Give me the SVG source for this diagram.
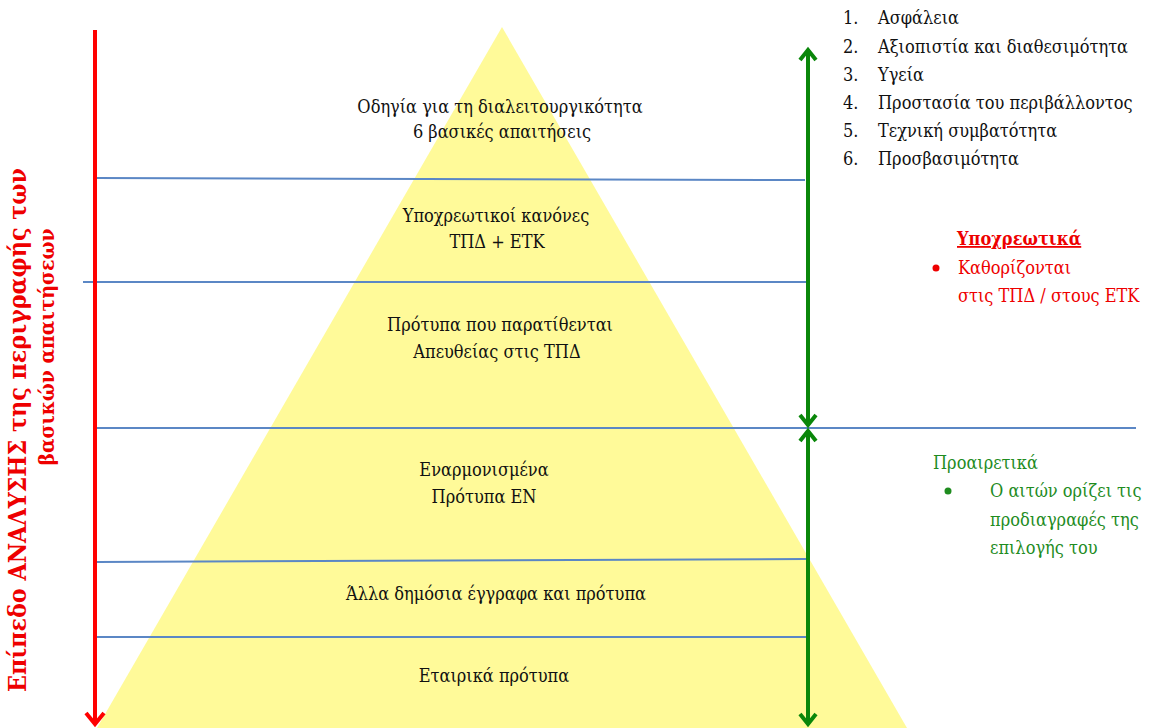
<svg xmlns="http://www.w3.org/2000/svg" width="1150" height="728" viewBox="0 0 1150 728">
<style>
text{font-family:'DejaVu Serif Condensed','DejaVu Serif',serif;font-stretch:condensed;font-size:18px;fill:#111}
.c{text-anchor:middle}
.blue{stroke:#5b87c5;stroke-width:2;fill:none}
.red{stroke:#ff0000;stroke-width:4;fill:none}
.grn{stroke:#0a870a;stroke-width:4;fill:none}
.rt{fill:#ee0000}
.gt{fill:#1f8c1f}
.ax{font-weight:bold;font-size:22px}
.ax1{font-size:24px}
.ax2{font-size:21px}
</style>
<rect width="1150" height="728" fill="#fff"/>
<g id="pyramid">
<polygon points="502,27 97,728 907,728" fill="#fffa99"/>
</g>
<g id="connectors">
<line class="blue" x1="96" y1="178" x2="805" y2="180"/>
<line class="blue" x1="83" y1="282" x2="810" y2="282"/>
<line class="blue" x1="93" y1="428" x2="1136" y2="428"/>
<line class="blue" x1="97" y1="562" x2="806" y2="559"/>
<line class="blue" x1="97" y1="637" x2="810" y2="637"/>
<line class="red" x1="95" y1="30" x2="95" y2="724"/>
<polyline class="red" points="86,713 95,724 104,713"/>
<line class="grn" x1="808" y1="50" x2="808" y2="425"/>
<polyline class="grn" points="800,60 808,50 816,60"/>
<polyline class="grn" points="800,415 808,425 816,415"/>
<line class="grn" x1="808" y1="431" x2="808" y2="724"/>
<polyline class="grn" points="800,441 808,431 816,441"/>
<polyline class="grn" points="800,714 808,724 816,714"/>
</g>
<g id="level1"><text class="c" x="500" y="113">Οδηγία για τη διαλειτουργικότητα</text><text class="c" x="502" y="138">6 βασικές απαιτήσεις</text></g>
<g id="level2"><text class="c" x="496" y="222">Υποχρεωτικοί κανόνες</text><text class="c" x="497" y="248">ΤΠΔ + ΕΤΚ</text></g>
<g id="level3"><text class="c" x="500" y="331">Πρότυπα που παρατίθενται</text><text class="c" x="497" y="358">Απευθείας στις ΤΠΔ</text></g>
<g id="level4"><text class="c" x="484" y="476">Εναρμονισμένα</text><text class="c" x="484" y="503">Πρότυπα ΕΝ</text></g>
<g id="level5"><text class="c" x="496" y="600">Άλλα δημόσια έγγραφα και πρότυπα</text></g>
<g id="level6"><text class="c" x="494" y="682">Εταιρικά πρότυπα</text></g>
<g id="axis-label">
<text class="c rt ax ax1" textLength="524" lengthAdjust="spacingAndGlyphs" transform="translate(26,430) rotate(-90)">Επίπεδο ΑΝΑΛΥΣΗΣ της περιγραφής των</text>
<text class="c rt ax ax2" transform="translate(54,347) rotate(-90)">βασικών απαιτήσεων</text>
</g>
<g id="requirements">
<text x="843" y="24">1.</text><text x="878" y="24">Ασφάλεια</text>
<text x="843" y="53">2.</text><text x="878" y="53">Αξιοπιστία και διαθεσιμότητα</text>
<text x="843" y="81">3.</text><text x="878" y="81">Υγεία</text>
<text x="843" y="109">4.</text><text x="878" y="109">Προστασία του περιβάλλοντος</text>
<text x="843" y="137">5.</text><text x="878" y="137">Τεχνική συμβατότητα</text>
<text x="843" y="165">6.</text><text x="878" y="165">Προσβασιμότητα</text>
</g>
<g id="mandatory">
<text class="rt" x="957" y="245" font-weight="bold" text-decoration="underline">Υποχρεωτικά</text>
<circle cx="936" cy="268" r="3.5" fill="#ee0000"/>
<text class="rt" x="958" y="274">Καθορίζονται</text>
<text class="rt" x="958" y="302">στις ΤΠΔ / στους ΕΤΚ</text>
</g>
<g id="optional">
<text class="gt" x="933" y="469">Προαιρετικά</text>
<circle cx="948" cy="491" r="3.5" fill="#1f8c1f"/>
<text class="gt" x="990" y="497">Ο αιτών ορίζει τις</text>
<text class="gt" x="990" y="526">προδιαγραφές της</text>
<text class="gt" x="990" y="554">επιλογής του</text>
</g>
</svg>
